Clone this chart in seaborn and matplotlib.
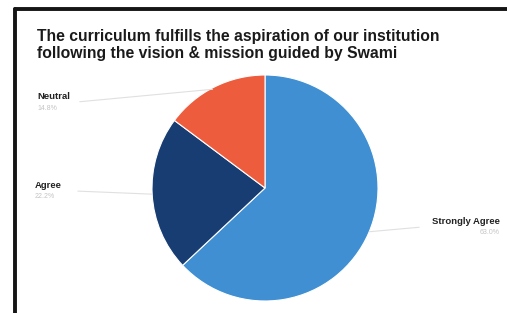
import numpy as np
import seaborn as sns
import matplotlib.pyplot as plt
from matplotlib.lines import Line2D

# Data (share of responses, %)
labels = ['Strongly Agree', 'Agree', 'Neutral']
values = [63.0, 22.2, 14.8]
colors = ['#3f8fd2', '#173d73', '#ee5c3e']

sns.set_theme(style='white')
plt.rcParams['font.family'] = ['Liberation Sans', 'DejaVu Sans']

fig = plt.figure(figsize=(5.07, 3.13), dpi=100)
fig.patch.set_facecolor('white')

# pie axes: centre ~ (265,188) px, radius ~113 px
W, H = 507, 313
cx, cy, r = 265, 188, 113
ax = fig.add_axes([(cx - r) / W, (H - cy - r) / H, 2 * r / W, 2 * r / H])
wedges, _ = ax.pie(values, colors=colors, startangle=90, counterclock=False,
                   wedgeprops=dict(edgecolor='white', linewidth=0.8))
ax.set_xlim(-1, 1)
ax.set_ylim(-1, 1)
ax.set_aspect('auto')
ax.axis('off')

# title
fig.text(37 / W, 1 - 29 / H,
         'The curriculum fulfills the aspiration of our institution\n'
         'following the vision & mission guided by Swami',
         fontsize=11.3, fontweight='bold', color='#1a1a1a', va='top', ha='left',
         linespacing=1.15)

# outside labels with leader lines
label_pos = {
    'Neutral': (37, 97, 'left'),
    'Agree': (35, 186, 'left'),
    'Strongly Agree': (500, 222, 'right'),
}
for w, lab, v in zip(wedges, labels, values):
    mid = np.deg2rad((w.theta1 + w.theta2) / 2)
    px, py = np.cos(mid), np.sin(mid)
    lx, ly, ha = label_pos[lab]
    fig.text(lx / W, 1 - ly / H, lab, fontsize=6.8, fontweight='bold',
             color='#222222', ha=ha, va='center')
    fig.text(lx / W, 1 - (ly + 11) / H, f'{v:.1f}%', fontsize=5,
             color='#c4c4c4', ha=ha, va='center')
    if ha == 'left':
        x_end = (lx + 40) / W
    else:
        x_end = (lx - 78) / W
    ax.annotate('', xy=(px * 0.98, py * 0.98), xycoords='data',
                xytext=(x_end, 1 - (ly + 5) / H), textcoords='figure fraction',
                arrowprops=dict(arrowstyle='-', color='#e0e0e0', lw=0.8))

# dark edges of the photographed screen (top and left)
fig.add_artist(Line2D([15 / W, 1], [1 - 9 / H, 1 - 9 / H], transform=fig.transFigure,
                      color='#151515', lw=2.8))
fig.add_artist(Line2D([15 / W, 15 / W], [0, 1 - 9 / H], transform=fig.transFigure,
                      color='#151515', lw=2.8))

plt.savefig('out.png', dpi=100)
